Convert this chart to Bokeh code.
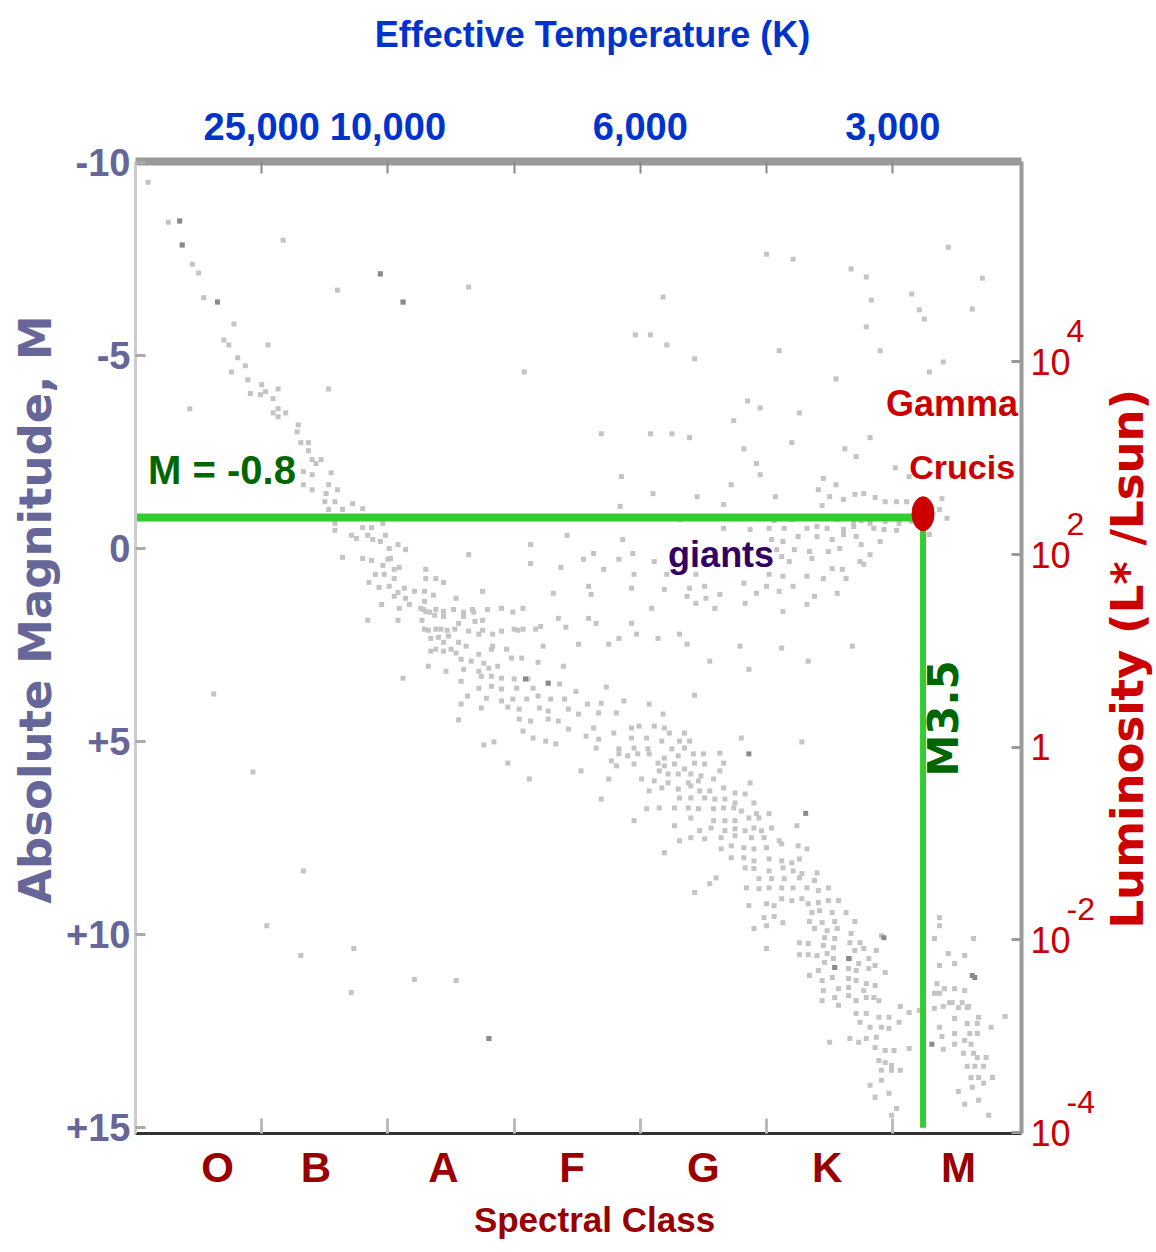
import math
from bokeh.plotting import figure
from bokeh.layouts import row, column
from bokeh.models import Range1d, LinearAxis, FixedTicker, Label
from bokeh.embed import file_html
from bokeh.resources import INLINE

# ---------------- data (spectral-class position, absolute magnitude M) ----------------
upper_ms = [
    (0.10, -9.48), (0.26, -8.45), (0.35, -8.48), (0.37, -7.86), (0.45, -7.36), (0.50, -7.13),
    (0.54, -6.49), (0.65, -6.38), (0.78, -5.81), (0.70, -5.40), (0.74, -5.27), (0.81, -4.94),
    (0.87, -4.73), (0.76, -4.57), (0.89, -4.37), (1.00, -4.24), (1.03, -4.06), (0.91, -4.01),
    (1.13, -4.13), (0.99, -3.98), (1.09, -3.88), (1.13, -3.62), (1.09, -3.51), (1.19, -3.51),
    (1.13, -3.41), (1.29, -3.20), (1.28, -3.02), (1.31, -2.74), (1.37, -2.74), (1.37, -2.53),
    (1.40, -2.30), (1.47, -2.30), (1.43, -2.20), (1.33, -1.99), (1.40, -1.91), (1.55, -1.96),
    (1.33, -1.65), (1.53, -1.65), (1.40, -1.52), (1.60, -1.52), (1.51, -1.42), (1.50, -1.21),
    (1.58, -1.21), (1.72, -1.16), (1.80, -1.03), (1.53, -1.01), (1.64, -1.01), (1.58, -0.65),
    (1.80, -0.54), (1.87, -0.54), (1.96, -0.65), (1.58, -0.47), (1.71, -0.34), (1.75, -0.26),
    (1.84, -0.34), (1.88, -0.23), (1.94, -0.18), (1.98, -0.34), (2.08, -0.10), (2.14, 0.03),
    (2.01, 0.00), (1.64, 0.23), (1.80, 0.26), (1.87, 0.31), (2.00, 0.28), (2.02, 0.26),
    (1.96, 0.44), (2.09, 0.49), (2.05, 0.54), (2.30, 0.54), (1.90, 0.67), (1.97, 0.67),
    (2.05, 0.78), (2.30, 0.78), (2.38, 0.78), (2.44, 0.88), (1.85, 0.88), (1.93, 1.01),
    (2.01, 0.98), (2.13, 1.03), (2.21, 1.11), (2.29, 1.11), (2.08, 1.14), (2.36, 1.21),
    (2.05, 1.24), (2.14, 1.29), (2.54, 1.29), (2.29, 1.37), (2.17, 1.45), (1.95, 1.45),
    (2.09, 1.55), (2.28, 1.58), (2.38, 1.58), (2.52, 1.58), (2.60, 1.65), (2.68, 1.65),
    (2.79, 1.58), (2.33, 1.65), (2.37, 1.73), (2.44, 1.76), (2.60, 1.76), (1.84, 1.86),
    (2.08, 1.86), (2.27, 1.86), (2.56, 1.94), (2.69, 1.89), (2.75, 1.86), (2.32, 2.12),
    (2.38, 2.09), (2.47, 2.12), (2.53, 2.09), (2.75, 2.12), (2.83, 2.22), (3.03, 2.12),
    (3.07, 2.09), (3.17, 2.09), (3.41, 2.04), (2.40, 2.30), (2.44, 2.43), (2.56, 2.43),
    (2.62, 2.53), (2.83, 2.53), (3.23, 2.53), (2.38, 2.61), (2.50, 2.61), (2.94, 2.61),
]

mid_ms = [
    (2.26, 1.55), (2.30, 1.63), (2.44, 1.63), (2.67, 1.58), (2.90, 1.55), (3.35, 1.81),
    (3.65, 1.94), (3.21, 2.02), (2.29, 2.09), (2.42, 2.09), (2.64, 2.14), (2.90, 2.14),
    (3.00, 2.09), (3.83, 2.33), (3.97, 2.22), (2.34, 2.33), (2.48, 2.27), (2.72, 2.22),
    (2.34, 2.66), (2.44, 2.66), (2.54, 2.71), (2.72, 2.74), (2.82, 2.61), (3.51, 2.48),
    (4.37, 2.48), (5.12, 2.58), (2.58, 2.87), (2.66, 2.92), (2.76, 2.97), (2.98, 2.84),
    (3.06, 2.84), (3.19, 2.95), (3.39, 3.05), (4.55, 2.92), (5.33, 2.92), (2.32, 3.05),
    (2.46, 3.18), (2.60, 3.13), (2.72, 3.18), (2.80, 3.10), (2.87, 3.05), (4.86, 3.13),
    (2.74, 3.31), (2.82, 3.31), (2.90, 3.36), (3.00, 3.38), (3.11, 3.38), (2.58, 3.44),
    (2.12, 3.36), (2.72, 3.62), (2.82, 3.57), (2.90, 3.64), (3.02, 3.62), (3.15, 3.62),
    (3.27, 3.49), (3.36, 3.51), (3.49, 3.70), (3.73, 3.59), (2.63, 3.82), (2.78, 3.88),
    (2.90, 3.95), (2.99, 3.90), (3.10, 3.90), (3.19, 3.82), (3.29, 3.90), (3.40, 3.90),
    (3.58, 4.03), (3.69, 4.01), (3.87, 3.95), (4.07, 4.03), (4.43, 3.80), (2.58, 4.03),
    (2.74, 4.13), (2.95, 4.11), (3.04, 4.16), (3.20, 4.13), (3.27, 4.21), (3.43, 4.16),
    (3.51, 4.29), (3.67, 4.26), (3.81, 4.26), (4.18, 4.29), (2.56, 4.44), (3.04, 4.42),
    (3.13, 4.47), (3.27, 4.42), (3.35, 4.47), (3.43, 4.68), (3.63, 4.65), (3.07, 4.73),
    (3.15, 4.91), (3.25, 4.99), (3.33, 5.06), (3.57, 4.86), (3.67, 4.94), (3.79, 4.78),
    (3.93, 4.65), (3.99, 4.60), (4.11, 4.60), (4.19, 4.65), (4.23, 4.78), (4.35, 4.78),
    (3.93, 4.91), (4.05, 4.91), (4.17, 4.99), (4.31, 4.99), (4.39, 4.99), (2.76, 5.09),
    (2.84, 5.01), (3.65, 5.17), (3.83, 5.19), (3.95, 5.17), (4.06, 5.19), (4.25, 5.19),
    (4.35, 5.17), (3.83, 5.32), (3.90, 5.37), (3.98, 5.32), (4.07, 5.32), (4.19, 5.43),
    (4.30, 5.37), (4.42, 5.32), (4.50, 5.32), (4.63, 5.30), (4.80, 4.91), (5.28, 5.01),
    (3.77, 5.50), (3.95, 5.58), (4.14, 5.56), (4.19, 5.63), (4.27, 5.58), (4.35, 5.71),
    (4.43, 5.56), (4.51, 5.58), (4.66, 5.56), (2.95, 5.56), (3.53, 5.76), (3.81, 5.63),
    (4.15, 5.76), (4.22, 5.84), (4.30, 5.84), (4.40, 5.84), (4.48, 5.89), (4.63, 5.76),
    (4.01, 5.97), (4.11, 6.02), (4.22, 6.07), (4.38, 6.07), (4.46, 6.02), (4.58, 5.97),
    (3.12, 5.97), (3.75, 5.97), (4.87, 6.07), (4.07, 6.28), (4.17, 6.20), (4.30, 6.23),
    (4.40, 6.15), (4.47, 6.28), (4.55, 6.28), (4.66, 6.20), (4.75, 6.33), (4.83, 6.36),
    (3.69, 6.49), (4.31, 6.46), (4.40, 6.46), (4.51, 6.46), (4.59, 6.49), (4.67, 6.49),
    (4.75, 6.59), (4.90, 6.59), (4.15, 6.72), (4.27, 6.72), (4.38, 6.72), (4.46, 6.74),
    (4.58, 6.74), (4.66, 6.72), (4.74, 6.72), (4.80, 6.80), (4.92, 6.87), (5.02, 6.87),
    (4.05, 6.74), (3.95, 7.05), (4.40, 6.98), (4.58, 7.05), (4.67, 7.05), (4.75, 7.05),
    (4.86, 6.98), (4.94, 6.98), (4.27, 7.18), (4.47, 7.31), (4.56, 7.24), (4.67, 7.31),
    (4.75, 7.26), (4.83, 7.31), (4.90, 7.24), (4.96, 7.31), (5.04, 7.24), (5.24, 7.18),
    (4.31, 7.57), (4.40, 7.49), (4.51, 7.52), (4.64, 7.49), (4.75, 7.44), (4.88, 7.49),
    (4.98, 7.49), (5.10, 7.57), (4.19, 7.88), (4.64, 7.78), (4.72, 7.70), (4.82, 7.75),
    (4.90, 7.78), (5.00, 7.75), (5.12, 7.65), (5.25, 7.70), (5.32, 7.78),
]

lower_ms = [
    (4.72, 8.01), (4.82, 8.01), (4.90, 8.09), (5.02, 8.04), (5.12, 8.09), (5.20, 8.14),
    (5.26, 8.04), (4.83, 8.27), (4.90, 8.29), (5.02, 8.35), (5.13, 8.27), (5.21, 8.35),
    (5.28, 8.42), (5.40, 8.40), (4.60, 8.53), (4.55, 8.68), (4.94, 8.55), (5.04, 8.55),
    (5.14, 8.55), (5.26, 8.53), (5.38, 8.60), (4.84, 8.79), (4.94, 8.81), (5.02, 8.79),
    (5.12, 8.79), (5.21, 8.79), (5.32, 8.79), (5.41, 8.86), (5.49, 8.79), (4.43, 8.91),
    (5.12, 9.07), (5.20, 9.12), (5.28, 9.07), (5.33, 9.20), (5.41, 9.17), (5.49, 9.12),
    (5.57, 9.12), (4.86, 9.25), (5.00, 9.20), (5.06, 9.25), (5.36, 9.43), (5.42, 9.38),
    (5.52, 9.43), (5.63, 9.43), (4.98, 9.56), (5.06, 9.53), (5.13, 9.69), (5.34, 9.66),
    (5.44, 9.69), (5.54, 9.66), (5.70, 9.66), (5.38, 9.84), (5.48, 9.90), (5.56, 9.84),
    (5.67, 9.97), (5.00, 9.77), (4.90, 9.84), (5.46, 10.08), (5.54, 10.10), (5.66, 10.21),
    (5.74, 10.21), (5.91, 10.03), (5.26, 10.21), (5.33, 10.23), (5.45, 10.28), (5.53, 10.34),
    (5.70, 10.41), (5.77, 10.36), (5.00, 10.36), (5.26, 10.52), (5.33, 10.52), (5.40, 10.54),
    (5.48, 10.49), (5.53, 10.62), (5.66, 10.62), (5.73, 10.75), (5.81, 10.62), (5.87, 10.41),
    (5.41, 10.93), (5.46, 10.72), (5.54, 10.85), (5.65, 10.88), (5.71, 10.93), (5.81, 10.88),
    (5.86, 10.80), (5.94, 10.98), (5.34, 11.06), (5.44, 11.19), (5.52, 11.11), (5.65, 11.14),
    (5.71, 11.19), (5.79, 11.27), (5.86, 11.32), (5.45, 11.45), (5.57, 11.40), (5.65, 11.37),
    (5.77, 11.45), (5.54, 11.63), (5.65, 11.58), (5.71, 11.71), (5.79, 11.63), (5.85, 11.63),
    (5.89, 11.71), (5.44, 11.71), (5.57, 11.83), (5.71, 12.04), (5.79, 12.04), (5.89, 12.14),
    (5.97, 12.14), (6.13, 12.02), (5.74, 12.27), (5.82, 12.40), (5.91, 12.40), (5.97, 12.43),
    (6.05, 12.27), (5.66, 12.69), (5.73, 12.79), (5.79, 12.69), (5.87, 12.66), (5.50, 12.79),
    (5.86, 12.92), (5.94, 13.00), (6.01, 13.00), (5.89, 13.26), (5.94, 13.31), (5.99, 13.39),
    (5.91, 13.51), (5.99, 13.51), (6.06, 13.51), (5.91, 13.77), (5.82, 13.90), (5.86, 14.21),
    (5.97, 14.11), (6.03, 14.50),
    (6.37, 9.56), (6.37, 9.77), (6.33, 10.10), (6.64, 10.10), (6.57, 10.54), (6.49, 10.75),
    (6.37, 10.80), (6.44, 10.49), (6.49, 11.40), (6.57, 11.45), (6.41, 11.40), (6.33, 11.52),
    (6.55, 11.76), (6.45, 11.76), (6.37, 11.52), (6.35, 11.27), (6.33, 11.91), (6.52, 11.89),
    (6.59, 11.89), (6.47, 11.76), (6.40, 11.86), (6.60, 11.86), (6.89, 12.12), (6.49, 12.17),
    (6.59, 12.30), (6.67, 12.30), (6.78, 12.40), (6.37, 12.40), (6.49, 12.56), (6.61, 12.56),
    (6.67, 12.56), (6.39, 12.64), (6.57, 12.74), (6.49, 12.84), (6.62, 12.84), (6.40, 12.97),
    (6.56, 13.07), (6.64, 13.07), (6.67, 13.18), (6.74, 13.18), (6.59, 13.41), (6.65, 13.41),
    (6.72, 13.41), (6.62, 13.70), (6.68, 13.70), (6.79, 13.70), (6.72, 13.85), (6.63, 13.95),
    (6.52, 14.06), (6.68, 14.29), (6.57, 14.39), (6.76, 14.68), (6.06, 11.86), (5.99, 14.68),
    (6.21, 11.96), (6.13, 12.95), (6.68, 12.14),
]

giants = [
    (3.85, -1.86), (4.95, -1.91), (5.45, -1.81), (4.72, -1.65), (5.55, -1.65), (5.41, -1.52),
    (6.13, -1.86), (4.10, -1.42), (4.45, -1.34), (5.07, -1.34), (5.50, -1.34), (5.61, -1.27),
    (5.70, -1.40), (5.77, -1.42), (5.86, -1.32), (5.94, -1.21), (6.03, -1.21), (6.11, -1.21),
    (6.39, -1.29), (4.66, -1.14), (5.44, -1.11), (3.84, -1.09), (6.37, -1.01), (6.43, -0.78),
    (4.31, -0.75), (4.48, -0.78), (4.74, -0.78), (5.06, -0.72), (5.20, -0.75), (5.32, -0.78),
    (5.56, -0.75), (5.69, -0.70), (5.75, -0.72), (5.82, -0.65), (5.94, -0.70), (6.05, -0.65),
    (6.15, -0.70), (6.29, -0.36), (5.02, -0.52), (5.14, -0.52), (5.32, -0.52), (5.40, -0.57),
    (5.48, -0.52), (5.61, -0.49), (5.69, -0.57), (5.85, -0.52), (5.93, -0.49), (6.03, -0.47),
    (4.87, -0.49), (4.66, -0.52), (3.86, -0.23), (5.04, -0.23), (5.13, -0.18), (5.25, -0.31),
    (5.40, -0.31), (5.52, -0.23), (5.61, -0.36), (5.71, -0.31), (5.75, -0.10), (5.90, -0.18),
    (6.21, -0.62), (5.08, 0.03), (5.22, 0.03), (5.34, 0.08), (5.49, 0.08), (5.58, 0.00),
    (5.82, 0.16), (5.74, 0.34), (3.55, 0.28), (3.63, 0.13), (3.83, 0.28), (3.94, 0.13),
    (4.11, 0.34), (5.12, 0.21), (5.18, 0.34), (5.36, 0.26), (5.52, 0.52), (5.60, 0.54),
    (5.77, 0.41), (3.71, 0.54), (3.95, 0.67), (4.21, 0.67), (4.44, 0.67), (5.02, 0.67),
    (5.13, 0.72), (5.32, 0.72), (5.45, 0.78), (5.63, 0.78), (3.59, 0.98), (3.93, 1.03),
    (4.19, 1.06), (4.39, 1.03), (4.51, 0.98), (4.82, 0.90), (5.00, 0.98), (5.21, 0.98),
    (3.61, 1.19), (4.37, 1.24), (4.52, 1.29), (4.63, 1.19), (4.92, 1.16), (5.10, 1.11),
    (5.38, 1.24), (5.56, 1.16), (4.83, 1.42), (4.44, 1.42), (4.09, 1.55), (4.59, 1.55),
    (5.13, 1.63), (5.32, 1.45), (3.59, 1.81), (3.93, 1.94), (4.14, 2.33), (4.31, 2.22),
    (3.75, 2.48), (4.79, 2.53), (5.68, 2.53),
]

field = [
    (1.17, -7.98), (1.94, -7.11), (1.60, -6.69), (2.64, -6.77), (2.12, -6.38), (1.05, -5.27),
    (3.08, -4.57), (1.53, -4.13), (0.43, -3.62),
    (5.00, -7.62), (5.21, -7.49), (6.44, -7.80), (5.67, -7.24), (5.79, -7.03), (6.71, -7.00),
    (4.18, -6.51), (6.15, -6.59), (5.83, -6.43), (6.63, -6.20), (6.21, -6.18), (6.25, -5.94),
    (5.79, -5.74), (3.96, -5.53), (4.08, -5.53), (4.21, -5.27), (5.10, -5.12), (5.90, -5.12),
    (4.43, -4.91), (6.40, -4.83), (6.29, -4.57), (5.55, -4.39), (4.85, -3.82), (4.95, -3.64),
    (5.26, -3.51), (4.74, -3.31), (3.69, -2.97), (4.08, -2.97), (4.25, -2.97), (4.39, -2.87),
    (5.82, -2.87), (5.20, -2.74), (4.82, -2.58), (5.62, -2.58), (5.71, -2.38), (4.92, -2.20),
    (6.02, -2.09),
    (2.64, 0.16), (3.13, -0.10), (3.42, -0.34), (3.13, 0.39), (3.37, 0.49), (2.75, 1.11),
    (3.31, 1.16), (3.07, 1.55), (2.99, 1.65),
]

dwarfs = [
    (1.33, 8.35), (1.04, 9.77), (1.31, 10.54), (1.73, 10.36), (1.71, 11.50), (0.62, 3.77),
    (0.93, 5.79), (2.21, 11.16), (2.54, 11.19), (2.80, 12.69),
]

dark_stars = [
    (0.35, -8.48), (0.37, -7.86), (0.65, -6.38), (1.94, -7.11), (2.12, -6.38), (5.93, 10.08),
    (6.65, 11.11), (6.31, 12.84), (2.80, 12.69), (6.63, 11.06), (5.65, 10.62), (5.54, 10.85),
    (3.09, 3.38), (3.27, 3.49), (4.86, 5.32), (5.31, 6.86),
]

# axes
mag_ticks = [-10, -5, 0, 5, 10, 15]
mag_labels = ["-10", "-5", "0", "+5", "+10", "+15"]
class_pos = [0.65, 1.43, 2.44, 3.46, 4.50, 5.48, 6.52]
class_names = ["O", "B", "A", "F", "G", "K", "M"]
class_bounds = [1, 2, 3, 4, 5, 6]
temp_pos = [1, 2, 4, 6]
temp_labels = ["25,000", "10,000", "6,000", "3,000"]
lum_ticks = [-4, -2, 0, 2, 4]          # log10(L*/Lsun)
lum_base = ["10", "10", "1", "10", "10"]
exp_ticks = [-4, -2, 2, 4]
exp_labels = ["-4", "-2", "2", "4"]

# Gamma Crucis
gcru_x = 6.24
gcru_m = -0.8

SANS = "Liberation Sans"
WIDE = "DejaVu Sans"

# page geometry of the panels
TOP_H, BOT_H = 70, 58
LEFT_W, RIGHT_W = 62, 56
MID_H = 1252 - TOP_H - BOT_H
P_W = 1156 - LEFT_W - RIGHT_W


def unzip(pts):
    return [a for a, b in pts], [b for a, b in pts]


def lab(fig, x, y, text, color, size, font=SANS, style="bold", align="left",
        baseline="middle", angle=0.0):
    fig.add_layout(Label(x=x, y=y, text=text, text_color=color, text_font=font,
                         text_font_size=size, text_font_style=style, text_align=align,
                         text_baseline=baseline, angle=angle))


def blank(w, h):
    f = figure(width=w, height=h, x_range=Range1d(0, w), y_range=Range1d(h, 0),
               output_backend="svg", toolbar_location=None,
               x_axis_location=None, y_axis_location=None,
               min_border_left=0, min_border_right=0, min_border_top=0, min_border_bottom=0)
    f.outline_line_color = None
    f.grid.visible = False
    f.background_fill_color = "white"
    f.border_fill_color = "white"
    return f


p = figure(width=P_W, height=MID_H, x_range=Range1d(0, 7.02), y_range=Range1d(15.15, -10.02),
           output_backend="svg", toolbar_location=None,
           x_axis_location=None, y_axis_location=None,
           min_border_left=135 - LEFT_W, min_border_right=(LEFT_W + P_W) - 1021,
           min_border_top=161 - TOP_H, min_border_bottom=(TOP_H + MID_H) - 1133)
p.extra_y_ranges = {"lum": Range1d(-4.01, 6.08)}
p.outline_line_color = None
p.grid.visible = False
p.background_fill_color = "white"
p.border_fill_color = "white"

# left axis: absolute magnitude
yl = LinearAxis(ticker=FixedTicker(ticks=mag_ticks),
                major_label_overrides=dict(zip(mag_ticks, mag_labels)))
yl.axis_line_color = "#cccccc"
yl.axis_line_width = 3
yl.major_tick_in = 10
yl.major_tick_out = 0
yl.major_tick_line_color = "#aaaaaa"
yl.major_tick_line_width = 3
yl.major_label_text_color = "#666699"
yl.major_label_text_font = SANS
yl.major_label_text_font_style = "bold"
yl.major_label_text_font_size = "38px"
yl.major_label_standoff = 5
p.add_layout(yl, "left")

# top axis: effective temperature
xt = LinearAxis(ticker=FixedTicker(ticks=temp_pos, minor_ticks=[3, 5]),
                major_label_overrides=dict(zip(temp_pos, temp_labels)))
xt.axis_line_color = "#999999"
xt.axis_line_width = 8
xt.major_tick_in = 12
xt.major_tick_out = 0
xt.minor_tick_in = 12
xt.minor_tick_out = 0
xt.major_tick_line_color = "#888888"
xt.minor_tick_line_color = "#888888"
xt.major_tick_line_width = 2
xt.minor_tick_line_width = 2
xt.major_label_text_color = "#0033cc"
xt.major_label_text_font = SANS
xt.major_label_text_font_style = "bold"
xt.major_label_text_font_size = "38px"
xt.major_label_standoff = 22
p.add_layout(xt, "above")

# bottom axis: spectral class
xb = LinearAxis(ticker=FixedTicker(ticks=class_pos, minor_ticks=class_bounds),
                major_label_overrides=dict(zip(class_pos, class_names)))
xb.axis_line_color = "#333333"
xb.axis_line_width = 3
xb.major_tick_line_color = None
xb.minor_tick_in = 15
xb.minor_tick_out = 0
xb.minor_tick_line_color = "#bbbbbb"
xb.minor_tick_line_width = 3
xb.major_label_text_color = "#990000"
xb.major_label_text_font = SANS
xb.major_label_text_font_style = "bold"
xb.major_label_text_font_size = "42px"
xb.major_label_standoff = 4
p.add_layout(xb, "below")

# right axis: luminosity (base "10")
yr = LinearAxis(y_range_name="lum", ticker=FixedTicker(ticks=lum_ticks),
                major_label_overrides=dict(zip(lum_ticks, lum_base)))
yr.axis_line_color = "#999999"
yr.axis_line_width = 4
yr.major_tick_in = 10
yr.major_tick_out = 0
yr.major_tick_line_color = "#999999"
yr.major_tick_line_width = 3
yr.major_label_text_color = "#cc0000"
yr.major_label_text_font = SANS
yr.major_label_text_font_size = "36px"
yr.major_label_standoff = 9
p.add_layout(yr, "right")

# right axis: exponents of the luminosity labels (raised by ~0.32 dex)
exp_pos = [t + 0.32 for t in exp_ticks]
ye = LinearAxis(y_range_name="lum", ticker=FixedTicker(ticks=exp_pos),
                major_label_overrides=dict(zip(exp_pos, exp_labels)))
ye.axis_line_color = None
ye.major_tick_line_color = None
ye.major_tick_in = 0
ye.major_tick_out = 0
ye.major_label_text_color = "#cc0000"
ye.major_label_text_font = SANS
ye.major_label_text_font_size = "32px"
ye.major_label_standoff = -7
p.add_layout(ye, "right")

# stars
for pts, col in [(field, "#c4c4c4"), (dwarfs, "#c4c4c4"), (upper_ms, "#c4c4c4"),
                 (mid_ms, "#c4c4c4"), (lower_ms, "#c4c4c4"), (giants, "#c4c4c4"),
                 (dark_stars, "#8a8a8a")]:
    xs, ms = unzip(pts)
    p.scatter(xs, ms, marker="square", size=5, fill_color=col, line_color=None)

# Gamma Crucis guide lines and marker
p.line([0, gcru_x], [gcru_m, gcru_m], line_color="#33cc33", line_width=8)
p.line([gcru_x, gcru_x], [gcru_m, 15.0], line_color="#33cc33", line_width=6)
p.ellipse(x=[gcru_x], y=[gcru_m - 0.1], width=22, height=34,
          width_units="screen", height_units="screen",
          fill_color="#cc0000", line_color="#cc0000")

# annotations inside the diagram
lab(p, 0.10, -2.04, "M = -0.8", "#006600", "40px")
lab(p, 6.47, -3.75, "Gamma", "#cc0000", "36px", align="center")
lab(p, 6.55, -2.12, "Crucis", "#cc0000", "34px", align="center")
lab(p, 4.64, 0.16, "giants", "#330066", "36px", align="center")
lab(p, 6.40, 4.40, "M3.5", "#006600", "42px", font=WIDE, align="center",
    angle=math.pi / 2)

# axis titles in thin panels around the diagram
top = blank(1156, TOP_H)
lab(top, 592, 34, "Effective Temperature (K)", "#0033cc", "36px", align="center")

bottom = blank(1156, BOT_H)
lab(bottom, 594, 1219 - (TOP_H + MID_H), "Spectral Class", "#990000", "35px", align="center")

left = blank(LEFT_W, MID_H)
lab(left, 35, 588 - TOP_H, "Absolute Magnitude, M", "#666699", "45px", font=WIDE,
    align="center", angle=math.pi / 2)

right = blank(RIGHT_W, MID_H)
lab(right, 1127 - (LEFT_W + P_W), 645 - TOP_H, "Luminosity (L* /Lsun)", "#cc0000", "45px",
    font=WIDE, align="center", angle=math.pi / 2)

layout = column(top, row(left, p, right, spacing=0), bottom, spacing=0)
open("out.html", "w").write(file_html(layout, INLINE))
